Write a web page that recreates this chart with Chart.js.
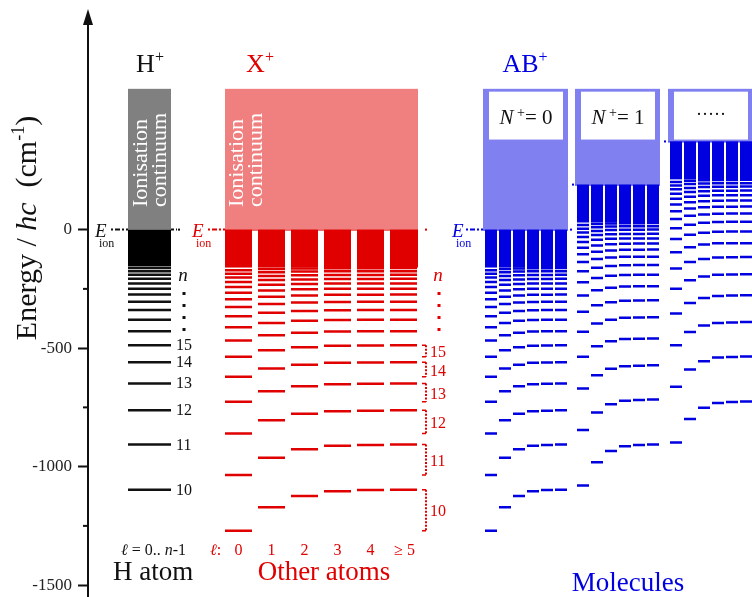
<!DOCTYPE html>
<html>
<head>
<meta charset="utf-8">
<script src="https://cdn.jsdelivr.net/npm/chart.js@4/dist/chart.umd.min.js"></script>
<style>
  html, body { margin: 0; padding: 0; background: #fff; }
  #wrap { width: 752px; height: 597px; }
</style>
</head>
<body>
<div id="wrap"><canvas id="chartLevels"></canvas></div>
<script>
// Bound levels, energy / hc in cm-1 below the ionisation limit (n = 10, 11, 12 ...)
const hLevels = [-1097, -907, -762, -649, -560, -488, -429, -380, -339, -304, -274, -249, -227, -207, -190, -176, -162];
const hLabels = ['10', '11', '12', '13', '14', '15'];

// other atoms, one array per l
const levL0 = [-1270, -1035, -860, -726, -621, -536, -468, -412, -366, -327, -294, -266, -242, -221, -202, -186, -171];
const levL1 = [-1171, -962, -804, -682, -586, -509, -446, -394, -351, -314, -283, -257, -233, -213, -196, -180, -166];
const levL2 = [-1124, -927, -777, -661, -570, -496, -435, -385, -343, -308, -278, -252, -229, -210, -192, -177, -164];
const levL3 = [-1104, -912, -766, -652, -562, -490, -430, -381, -340, -305, -275, -250, -227, -208, -191, -176, -163];
const levL4 = [-1099, -909, -764, -650, -561, -489, -429, -380, -339, -304, -275, -249, -227, -208, -191, -176, -163];
const levL5 = [-1097, -907, -762, -649, -560, -488, -429, -380, -339, -304, -274, -249, -227, -207, -190, -176, -162];
const atomLevels = [levL0, levL1, levL2, levL3, levL4, levL5];
const lLabels = ['0', '1', '2', '3', '4', '≥ 5'];

// molecule: ionisation limits of the N+ series
const ionLimits = [0, 190, 372];
const groupNames = ['= 0', '= 1', '·····'];

const denseDepth = 160;      // quasi-continuous band below each limit
const continuumTop = 594;
const yTicks = [-1500, -1250, -1000, -750, -500, -250, 0];
const yLabels = [-1500, -1000, -500, 0];

// layout (x in px from the axis)
const SERIF = '"Liberation Serif", "Times New Roman", serif';
const RED = '#e00000', PINK = '#f08080', BLUE = '#0000e0', LBLUE = '#8080f0', GREY = '#808080';
const H_COL = { x0: 40, w: 43 };
const ATOM = { x0: 137, pitch: 33, w: 27 };
const MOL = { x0: [397, 489, 582], pitch: 14, w: 12 };

function segs(levels, x0, w, shift) {
    const out = [];
    levels.forEach(e => {
        out.push({ x: x0, y: e + shift }, { x: x0 + w, y: e + shift }, { x: x0 + w, y: null });
    });
    return out;
}

let redData = [];
atomLevels.forEach((lev, l) => { redData = redData.concat(segs(lev, ATOM.x0 + l * ATOM.pitch, ATOM.w, 0)); });
let blueData = [];
ionLimits.forEach((lim, g) => {
    atomLevels.forEach((lev, l) => { blueData = blueData.concat(segs(lev, MOL.x0[g] + l * MOL.pitch, MOL.w, lim)); });
});

function rich(ctx, parts, x, y, align) {
    let w = 0;
    parts.forEach(p => { ctx.font = p[1]; w += ctx.measureText(p[0]).width; });
    let cx = align === 'center' ? x - w / 2 : (align === 'right' ? x - w : x);
    ctx.textAlign = 'left';
    parts.forEach(p => {
        ctx.font = p[1];
        ctx.fillText(p[0], cx, y + (p[2] || 0));
        cx += ctx.measureText(p[0]).width;
    });
}

const f = (size, style) => (style ? style + ' ' : '') + size + 'px ' + SERIF;

// Boxes, continua and dense bands
const bandsPlugin = {
    id: 'bands',
    beforeDatasetsDraw(chart) {
        const { ctx, scales: { x, y } } = chart;
        const rect = (x0, x1, e0, e1, col) => {
            ctx.fillStyle = col;
            const px0 = x.getPixelForValue(x0), px1 = x.getPixelForValue(x1);
            const py0 = y.getPixelForValue(e0), py1 = y.getPixelForValue(e1);
            ctx.fillRect(px0, Math.min(py0, py1), px1 - px0, Math.abs(py1 - py0));
        };
        ctx.save();
        // H
        rect(H_COL.x0, H_COL.x0 + H_COL.w, 0, continuumTop, GREY);
        rect(H_COL.x0, H_COL.x0 + H_COL.w, -denseDepth + 5, 0, '#000');
        // other atoms
        const aEnd = ATOM.x0 + 5 * ATOM.pitch + ATOM.w + 1;
        rect(ATOM.x0, aEnd, 0, continuumTop, PINK);
        rect(ATOM.x0, aEnd, -4, 0, RED);
        for (let l = 0; l < 6; l++) {
            const xs = ATOM.x0 + l * ATOM.pitch;
            rect(xs, xs + ATOM.w + (l === 5 ? 1 : 0), -denseDepth, 0, RED);
        }
        // molecules
        ionLimits.forEach((lim, g) => {
            const gx = MOL.x0[g];
            const gEnd = gx + 5 * MOL.pitch + MOL.w + 1;
            rect(gx - 2, gEnd, lim, continuumTop, LBLUE);
            rect(gx - 2, gEnd, lim - 4, lim, BLUE);
            for (let l = 0; l < 6; l++) {
                const xs = gx + l * MOL.pitch;
                rect(xs, xs + MOL.w, lim - denseDepth, lim, BLUE);
            }
            rect(gx + 4, gEnd - 5, 380, 582, '#fff');
        });
        ctx.restore();
    },
    afterDatasetsDraw(chart) {
        const { ctx, scales: { x, y } } = chart;
        const px = v => x.getPixelForValue(v);
        const py = v => y.getPixelForValue(v);
        ctx.save();
        ctx.textBaseline = 'alphabetic';

        // axis arrow and minor ticks
        const ax = chart.chartArea.left;
        ctx.strokeStyle = '#111';
        ctx.fillStyle = '#111';
        ctx.lineWidth = 2;
        ctx.beginPath();
        ctx.moveTo(ax, chart.chartArea.top);
        ctx.lineTo(ax, 20);
        ctx.stroke();
        ctx.beginPath();
        ctx.moveTo(ax, 9); ctx.lineTo(ax - 5, 25); ctx.lineTo(ax + 5, 25); ctx.closePath();
        ctx.fill();
        yTicks.filter(v => !yLabels.includes(v)).forEach(v => {
            ctx.beginPath();
            ctx.moveTo(ax - 5, py(v)); ctx.lineTo(ax, py(v));
            ctx.stroke();
        });

        // y title
        ctx.save();
        ctx.translate(36, 228);
        ctx.rotate(-Math.PI / 2);
        ctx.fillStyle = '#111';
        rich(ctx, [['Energy / ', f(30)], ['hc', f(30, 'italic')], ['  (cm', f(30)], ['-1', f(18), -12], [')', f(30)]], 0, 0, 'center');
        ctx.restore();

        // ion labels
        ctx.fillStyle = '#111';
        rich(ctx, [['H', f(26)], ['+', f(16), -10]], 150, 72, 'center');
        ctx.fillStyle = RED;
        rich(ctx, [['X', f(26)], ['+', f(16), -10]], 260, 72, 'center');
        ctx.fillStyle = BLUE;
        rich(ctx, [['AB', f(26)], ['+', f(16), -10]], 525, 72, 'center');

        // vertical "Ionisation continuum"
        [[147, '#fff'], [243, '#fff']].forEach(([bx, col]) => {
            ctx.save();
            ctx.translate(bx, 207);
            ctx.rotate(-Math.PI / 2);
            ctx.fillStyle = col;
            ctx.font = f(22);
            ctx.textAlign = 'left';
            ctx.fillText('Ionisation', 0, 0);
            ctx.fillText('continuum', 0, 19);
            ctx.restore();
        });

        // N+ boxes
        ionLimits.forEach((lim, g) => {
            const cx = px(MOL.x0[g] + (5 * MOL.pitch + MOL.w) / 2);
            ctx.fillStyle = '#111';
            if (g < 2) {
                rich(ctx, [['N', f(21, 'italic')], [' +', f(14), -7], [groupNames[g], f(21)]], cx, 124, 'center');
            } else {
                rich(ctx, [[groupNames[g], f(18)]], cx, 120, 'center');
            }
        });

        // E_ion markers
        const eion = (xl, col, d0, d1, lim) => {
            ctx.fillStyle = col;
            ctx.strokeStyle = col;
            const yy = py(lim);
            rich(ctx, [['E', f(19, 'italic')]], xl, yy + 7, 'left');
            rich(ctx, [['ion', f(12)]], xl + 4, yy + 17, 'left');
            ctx.lineWidth = 2;
            ctx.setLineDash([2, 2, 5, 2]);
            ctx.beginPath();
            ctx.moveTo(d0, yy); ctx.lineTo(d1, yy);
            ctx.stroke();
            ctx.setLineDash([]);
        };
        eion(95, '#111', 111, 128, 0);
        eion(192, RED, 208, 225, 0);
        eion(452, BLUE, 466, 483, 0);
        const dot = (xx, lim, col) => { ctx.fillStyle = col; ctx.fillRect(xx - 1, py(lim) - 1, 2, 2); };
        ctx.strokeStyle = '#111';
        ctx.setLineDash([3, 2]);
        ctx.beginPath(); ctx.moveTo(171, py(0)); ctx.lineTo(177, py(0)); ctx.stroke();
        ctx.setLineDash([]);
        dot(179, 0, '#111');
        dot(426, 0, RED);
        dot(571, 0, BLUE);
        dot(573, ionLimits[1], BLUE);
        dot(665, ionLimits[2], BLUE);

        // n labels with dotted continuation
        const nMark = (xx, col) => {
            ctx.fillStyle = col;
            ctx.strokeStyle = col;
            rich(ctx, [['n', f(19, 'italic')]], xx, 281, 'center');
            ctx.lineWidth = 3;
            ctx.setLineDash([3, 9]);
            ctx.beginPath(); ctx.moveTo(xx + 1, 292); ctx.lineTo(xx + 1, 334); ctx.stroke();
            ctx.setLineDash([]);
        };
        nMark(183, '#111');
        nMark(438, RED);

        // H numbers
        ctx.fillStyle = '#111';
        hLabels.forEach((t, i) => rich(ctx, [[t, f(16)]], 176, py(hLevels[i]) + 5, 'left'));

        // red brackets n = 10..15
        ctx.strokeStyle = RED;
        ctx.fillStyle = RED;
        hLabels.forEach((t, i) => {
            const y0 = py(levL5[i]), y1 = py(levL0[i]);
            ctx.lineWidth = 1.5;
            ctx.beginPath();
            ctx.moveTo(422, y0); ctx.lineTo(426, y0);
            ctx.moveTo(422, y1); ctx.lineTo(426, y1);
            ctx.stroke();
            ctx.lineWidth = 2;
            ctx.setLineDash([2, 1.5]);
            ctx.beginPath(); ctx.moveTo(426, y0); ctx.lineTo(426, y1); ctx.stroke();
            ctx.setLineDash([]);
            rich(ctx, [[t, f(16)]], 430, (y0 + y1) / 2 + 6, 'left');
        });

        // l labels
        ctx.fillStyle = '#111';
        rich(ctx, [['ℓ', f(16, 'italic')], [' = 0.. ', f(16)], ['n', f(16, 'italic')], ['-1', f(16)]], 121, 555, 'left');
        ctx.fillStyle = RED;
        rich(ctx, [['ℓ', f(16, 'italic')], [':', f(16)]], 210, 555, 'left');
        lLabels.forEach((t, l) => rich(ctx, [[t, f(16)]], px(ATOM.x0 + l * ATOM.pitch + ATOM.w / 2) + (l === 5 ? 1 : 0), 555, 'center'));

        // bottom titles
        ctx.fillStyle = '#111';
        rich(ctx, [['H atom', f(27)]], 113, 580, 'left');
        ctx.fillStyle = RED;
        rich(ctx, [['Other atoms', f(27)]], 324, 580, 'center');
        ctx.fillStyle = BLUE;
        rich(ctx, [['Molecules', f(27)]], 628, 591, 'center');

        ctx.restore();
    }
};

const lineStyle = { pointRadius: 0, borderWidth: 2.5, tension: 0, spanGaps: false, borderCapStyle: 'butt' };

new Chart(document.getElementById('chartLevels'), {
    type: 'line',
    data: {
        datasets: [
            { label: 'H atom', data: segs(hLevels, H_COL.x0, H_COL.w, 0), borderColor: '#111', ...lineStyle },
            { label: 'Other atoms', data: redData, borderColor: RED, ...lineStyle },
            { label: 'Molecules', data: blueData, borderColor: BLUE, ...lineStyle },
        ]
    },
    options: {
        animation: false,
        responsive: true,
        maintainAspectRatio: false,
        layout: { padding: { top: 40, right: 0, bottom: 0, left: 0 } },
        plugins: {
            legend: { display: false },
            tooltip: { enabled: false },
        },
        scales: {
            x: { type: 'linear', display: false, min: 0, max: 664 },
            y: {
                min: -1550,
                max: 800,
                afterFit: s => {
                    s.width = 88;
                    s.paddingTop = 0;
                    s.paddingBottom = 0;
                },
                afterBuildTicks: s => { s.ticks = yTicks.map(v => ({ value: v })); },
                ticks: {
                    autoSkip: false,
                    padding: 6,
                    color: '#222',
                    font: { family: SERIF, size: 17 },
                    callback: v => yLabels.includes(v) ? String(v) : '',
                },
                grid: {
                    drawOnChartArea: false,
                    tickLength: 10,
                    tickWidth: 2,
                    tickColor: c => (c.tick && yLabels.includes(c.tick.value)) ? '#111' : 'rgba(0,0,0,0)',
                },
                border: { color: '#111', width: 2 },
            }
        }
    },
    plugins: [bandsPlugin]
});
</script>
</body>
</html>
